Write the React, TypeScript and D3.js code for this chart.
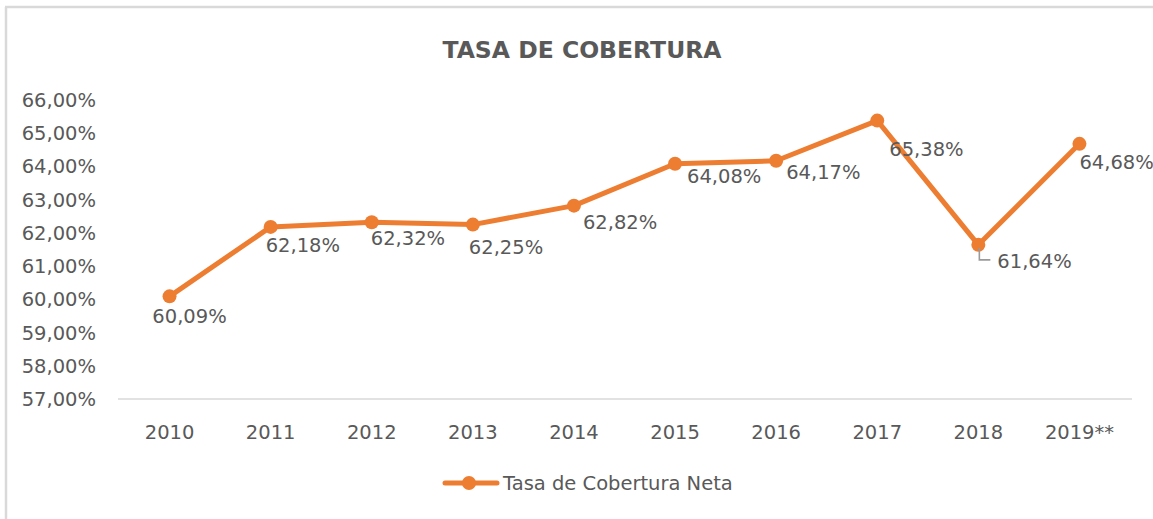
import React from "react";
import * as d3 from "d3";

const categories = ["2010", "2011", "2012", "2013", "2014", "2015", "2016", "2017", "2018", "2019**"];
const values = [60.09, 62.18, 62.32, 62.25, 62.82, 64.08, 64.17, 65.38, 61.64, 64.68];
const yTicks = [57, 58, 59, 60, 61, 62, 63, 64, 65, 66];
const seriesName = "Tasa de Cobertura Neta";
const title = "TASA DE COBERTURA";

// label offsets relative to each point (layout only)
const labelDx = [20, -5, -1, -4, 9, 12, 10, 12, 19, 0];
const labelDy = [27, 25, 23, 29, 23, 19, 18, 35, 23, 25];
const labelAnchor = ["middle", "start", "start", "start", "start", "start", "start", "start", "start", "start"];

const fmt = (v: number) => v.toFixed(2).replace(".", ",") + "%";

export default function App() {
  const W = 1153, H = 519;
  const left = 119, right = 1130, top = 100, bottom = 399;
  const x = d3.scaleBand<string>().domain(categories).range([left, right]);
  const y = d3.scaleLinear().domain([57, 66]).range([bottom, top]);
  const cx = (c: string) => (x(c) as number) + x.bandwidth() / 2;
  const line = d3.line<number>().x((_, i) => cx(categories[i])).y((v) => y(v));
  const color = "#ED7D31";
  const textColor = "#595959";
  const font = "'DejaVu Sans', sans-serif";
  const fs = 19.5;

  return (
    <svg width={W} height={H} style={{ position: "absolute", left: 0, top: 0, background: "#fff" }} fontFamily={font}>
      <rect x={0} y={0} width={W} height={H} fill="#fff" />
      <line x1={5} y1={7} x2={W} y2={7} stroke="#d9d9d9" strokeWidth={2.5} />
      <line x1={6} y1={7} x2={6} y2={H} stroke="#d9d9d9" strokeWidth={2.5} />
      <text x={582} y={58} textAnchor="middle" fontSize={23.5} fontWeight="bold" fill={textColor}>{title}</text>
      {yTicks.map((t) => (
        <text key={t} x={96} y={y(t) + 7} textAnchor="end" fontSize={fs} fill={textColor}>{fmt(t)}</text>
      ))}
      <line x1={left - 1} x2={right + 2} y1={bottom} y2={bottom} stroke="#d9d9d9" strokeWidth={1.5} />
      {categories.map((c) => (
        <text key={c} x={cx(c)} y={439} textAnchor="middle" fontSize={fs} fill={textColor}>{c}</text>
      ))}
      <path d={line(values) || ""} fill="none" stroke={color} strokeWidth={5} strokeLinejoin="round" strokeLinecap="round" />
      {values.map((v, i) => (
        <circle key={i} cx={cx(categories[i])} cy={y(v)} r={7} fill={color} />
      ))}
      {/* leader line for 2018 */}
      <polyline
        points={`${cx(categories[8]) + 1},${y(values[8]) + 3} ${cx(categories[8]) + 1},${y(values[8]) + 15} ${cx(categories[8]) + 12},${y(values[8]) + 15}`}
        fill="none" stroke="#9a9a9a" strokeWidth={1.6}
      />
      {values.map((v, i) => (
        <text key={"l" + i} x={cx(categories[i]) + labelDx[i]} y={y(v) + labelDy[i]} textAnchor={labelAnchor[i] as any} fontSize={fs} fill={textColor}>{fmt(v)}</text>
      ))}
      <line x1={445} x2={497} y1={483} y2={483} stroke={color} strokeWidth={5} strokeLinecap="round" />
      <circle cx={469} cy={483} r={7} fill={color} />
      <text x={503} y={490} fontSize={fs} fill={textColor}>{seriesName}</text>
    </svg>
  );
}
